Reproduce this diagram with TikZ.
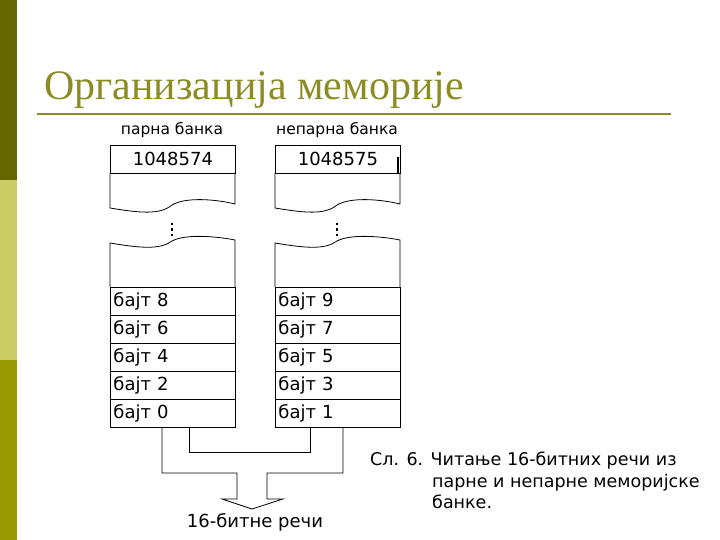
\documentclass[tikz,border=0pt]{standalone}
\usepackage{fontspec}
\setmainfont{DejaVu Sans}
\newfontfamily\titlefont{Liberation Serif}
\definecolor{titleol}{HTML}{8C8C24}
\definecolor{barA}{HTML}{666600}
\definecolor{barB}{HTML}{CCCC66}
\definecolor{barC}{HTML}{999900}
\begin{document}
\begin{tikzpicture}[x=1pt,y=-1pt,
  cell/.style={draw,line width=0.8pt,minimum width=125pt,minimum height=28pt,inner sep=0pt,anchor=north west,font=\fontsize{18}{20}\selectfont},
  lbl/.style={font=\fontsize{15.5}{17}\selectfont},
  wire/.style={line width=0.8pt}]
\useasboundingbox (0,0) rectangle (720,540);
\fill[barA] (0,0) rectangle (17,180);
\fill[barB] (0,180) rectangle (17,360);
\fill[barC] (0,360) rectangle (17,540);
\node[anchor=base west,text=titleol,font=\titlefont\fontsize{42}{48}\selectfont,inner sep=0pt] (title) at (44,100) {Организација меморије};
\draw[titleol,line width=2pt] (37,114) -- (671,114);
\node[lbl] (lp) at (172,130) {парна банка};
\node[lbl] (rp) at (337,130) {непарна банка};
\foreach \bx/\top/\tag in {110/1048574/a, 275/1048575/b}{
  \node[cell] (\tag top) at (\bx,145) {\top};
  \draw[wire] (\bx,173) -- (\bx,208) .. controls (\bx+30,213) and (\bx+50,215) .. (\bx+62,205)
     .. controls (\bx+75,197) and (\bx+105,199) .. (\bx+125,204) -- (\bx+125,173);
  \draw[wire] (\bx,287) -- (\bx,243) .. controls (\bx+30,248) and (\bx+50,250) .. (\bx+62,241)
     .. controls (\bx+75,234) and (\bx+105,236) .. (\bx+125,240) -- (\bx+125,287);
  \foreach \yy in {223,228.5,234} \fill (\bx+61,\yy) rectangle +(2.2,2.2);
}
\draw[line width=2pt] (398,157) -- (398,173);
\foreach \i/\l/\r in {0/8/9,1/6/7,2/4/5,3/2/3,4/0/1}{
  \node[cell,text width=119pt,inner xsep=3pt,align=left] (l\l) at (110,287+28*\i) {бајт \l};
  \node[cell,text width=119pt,inner xsep=3pt,align=left] (r\r) at (275,287+28*\i) {бајт \r};
}
\coordinate (o1) at (162,427);
\coordinate (o2) at (343,427);
\coordinate (i1) at (189,427);
\coordinate (i2) at (310,427);
\draw[wire] (o1) -- (162,473) -- (237,473) -- (237,499) -- (222,499) -- (252,509) -- (283,499) -- (267,499) -- (267,473) -- (343,473) -- (o2);
\draw[wire] (i1) -- (189,452) -- (310,452) -- (i2);
\node[font=\fontsize{18}{20}\selectfont] (word) at (255,522) {16-битне речи};
\node[anchor=north west,align=left,font=\fontsize{17.5}{21.5}\selectfont,inner sep=0pt] (cap) at (370,452)
 {Сл. 6. Читање 16-битних речи из\\\hspace*{62pt}парне и непарне меморијске\\\hspace*{62pt}банке.};
\end{tikzpicture}
\end{document}
